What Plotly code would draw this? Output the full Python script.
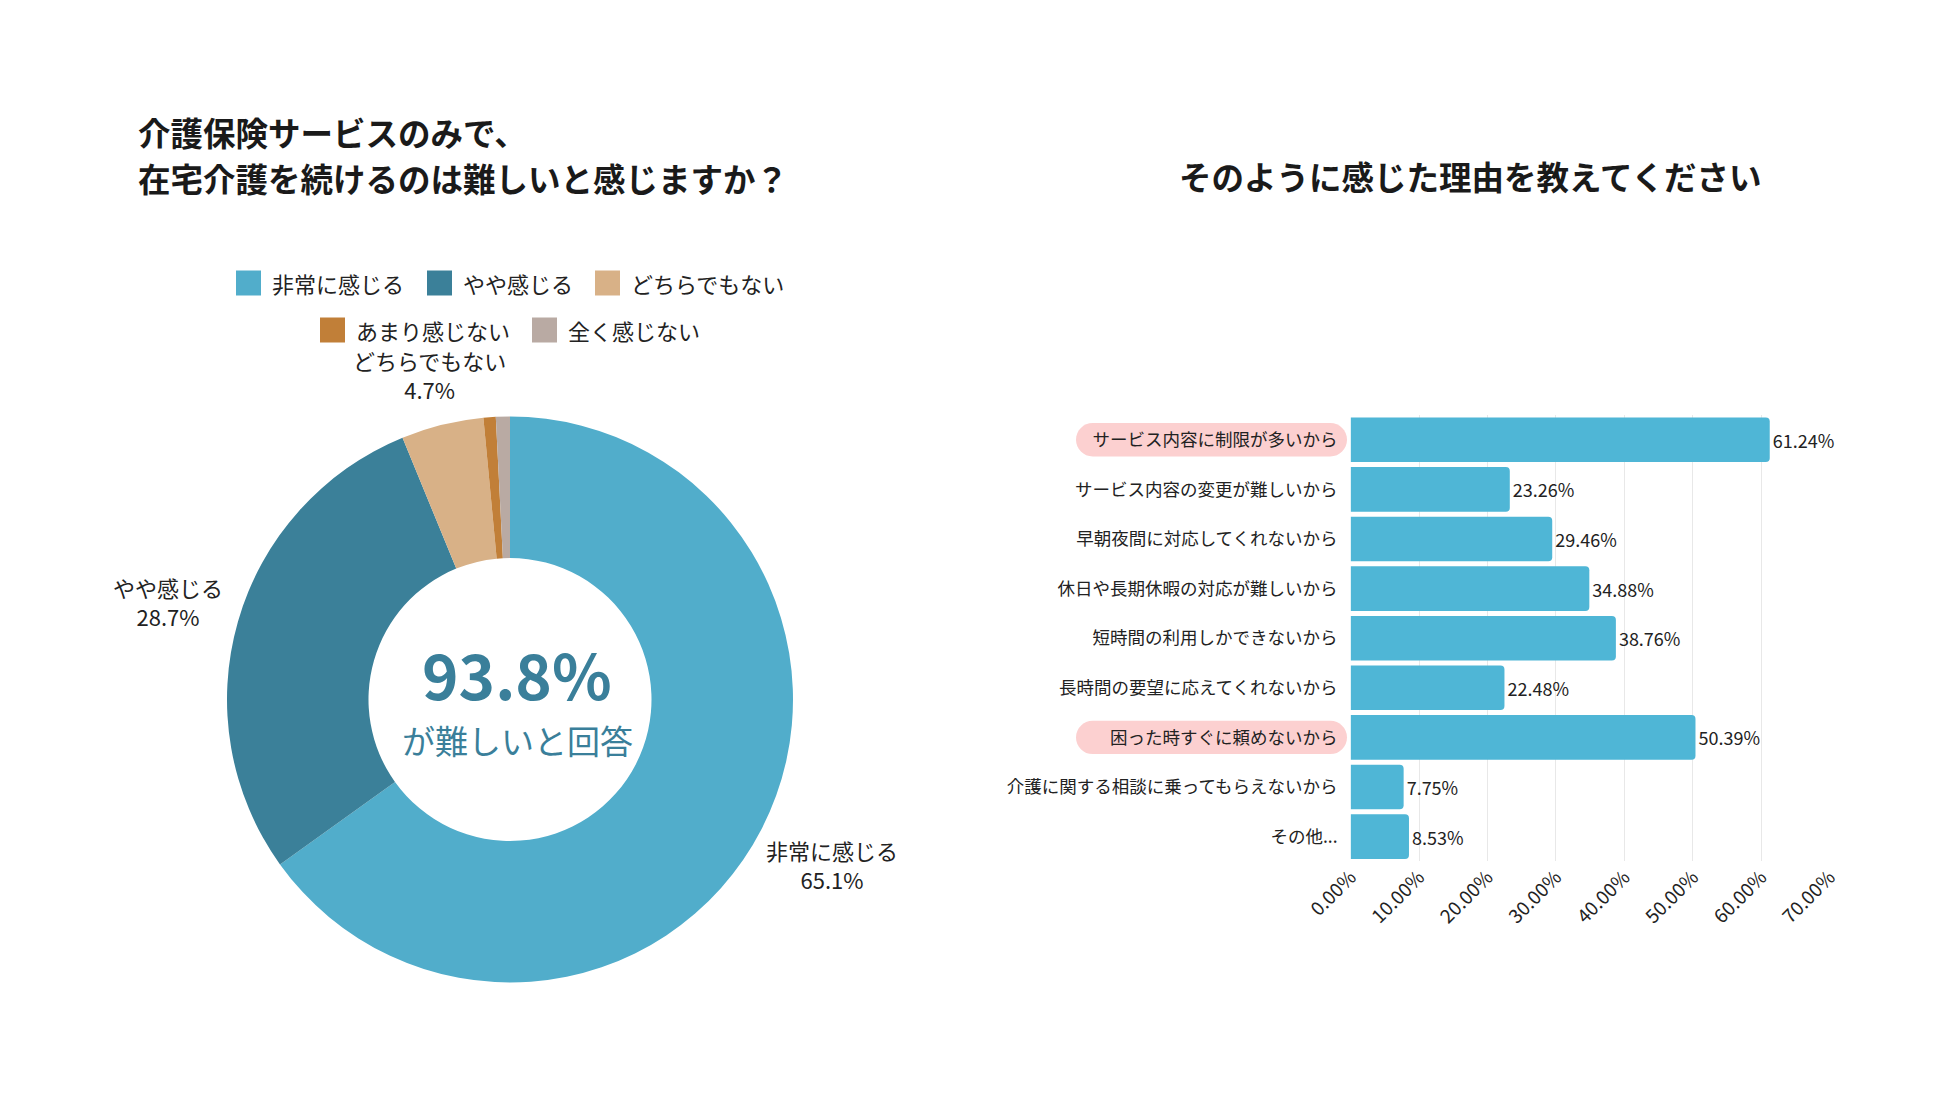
import math
import plotly.graph_objects as go

# ---------------- data ----------------
pie_labels = ["非常に感じる", "やや感じる", "どちらでもない", "あまり感じない", "全く感じない"]
pie_values = [65.1, 28.7, 4.7, 0.7, 0.8]
pie_show_label = [True, True, True, False, False]
pie_colors = ["#51adcb", "#3b8099", "#d8b187", "#c17f38", "#b9aaa3"]

center_value = "93.8%"
center_caption = "が難しいと回答"

left_title_lines = ["介護保険サービスのみで、", "在宅介護を続けるのは難しいと感じますか？"]
right_title = "そのように感じた理由を教えてください"

bar_categories = [
    "サービス内容に制限が多いから",
    "サービス内容の変更が難しいから",
    "早朝夜間に対応してくれないから",
    "休日や長期休暇の対応が難しいから",
    "短時間の利用しかできないから",
    "長時間の要望に応えてくれないから",
    "困った時すぐに頼めないから",
    "介護に関する相談に乗ってもらえないから",
    "その他...",
]
bar_values = [61.24, 23.26, 29.46, 34.88, 38.76, 22.48, 50.39, 7.75, 8.53]
highlighted_categories = ["サービス内容に制限が多いから", "困った時すぐに頼めないから"]

x_tickvals = [0, 10, 20, 30, 40, 50, 60, 70]
x_ticktext = ["0.00%", "10.00%", "20.00%", "30.00%", "40.00%", "50.00%", "60.00%", "70.00%"]

# ---------------- layout constants ----------------
W, H = 1950, 1097
FONT = "Noto Sans CJK JP"
TEXT = "#222222"
BAR_COLOR = "#4fb6d6"
PILL_COLOR = "#fcd0d0"
PIE_CX, PIE_CY, PIE_R = 510, 699.5, 283
LABEL_SIZE = 22
BAR_X0, BAR_X1 = 1350.6, 1829.7
BAR_Y0, BAR_Y1 = 415, 861.4


def px_x(p):
    return p / W


def px_y(p):
    return 1 - p / H


fig = go.Figure()

fig.add_trace(go.Pie(
    labels=pie_labels,
    values=pie_values,
    textinfo="none",
    marker=dict(colors=pie_colors, line=dict(width=0)),
    hole=0.5,
    sort=False,
    direction="clockwise",
    rotation=0,
    showlegend=False,
    automargin=False,
    domain=dict(x=[px_x(PIE_CX - PIE_R), px_x(PIE_CX + PIE_R)],
                y=[px_y(PIE_CY + PIE_R), px_y(PIE_CY - PIE_R)]),
    hoverinfo="label+percent",
))

fig.add_trace(go.Bar(
    y=bar_categories,
    x=bar_values,
    orientation="h",
    marker=dict(color=BAR_COLOR, cornerradius=4, line=dict(width=0)),
    texttemplate="%{x:.2f}%",
    textposition="outside",
    textfont=dict(family=FONT, size=18, color=TEXT),
    cliponaxis=False,
    showlegend=False,
    xaxis="x", yaxis="y",
))

annotations = []
shapes = []

# titles
for i, line in enumerate(left_title_lines):
    annotations.append(dict(
        text=f"<b>{line}</b>", xref="paper", yref="paper",
        x=px_x(136), y=px_y(131 + 47 * i), xanchor="left", yanchor="middle",
        showarrow=False, font=dict(family=FONT, size=32.5, color="#1a1a1a"),
    ))
annotations.append(dict(
    text=f"<b>{right_title}</b>", xref="paper", yref="paper",
    x=px_x(1470), y=px_y(175), xanchor="center", yanchor="middle",
    showarrow=False, font=dict(family=FONT, size=32.5, color="#1a1a1a"),
))

# donut centre text
annotations.append(dict(
    text=f"<b>{center_value}</b>", xref="paper", yref="paper",
    x=px_x(PIE_CX + 7), y=px_y(673), xanchor="center", yanchor="middle",
    showarrow=False, font=dict(family=FONT, size=62, color="#3a7f9a"),
))
annotations.append(dict(
    text=center_caption, xref="paper", yref="paper",
    x=px_x(PIE_CX + 7), y=px_y(740), xanchor="center", yanchor="middle",
    showarrow=False, font=dict(family=FONT, size=33, color="#3a7f9a"),
))

# slice labels outside the donut, placed at each slice's mid angle
total = sum(pie_values)
cum = 0.0
R0 = 302
for lab, val, show in zip(pie_labels, pie_values, pie_show_label):
    theta = 2 * math.pi * (cum + val / 2) / total
    cum += val
    if not show:
        continue
    hw = 0.5 * LABEL_SIZE * len(lab)
    hh = 28
    s, c = math.sin(theta), math.cos(theta)
    d = R0 + math.hypot(hw * s, hh * c)
    lx = PIE_CX + d * s
    ly = PIE_CY - d * c
    annotations.append(dict(
        text=f"{lab}<br>{val:.1f}%", xref="paper", yref="paper",
        x=px_x(lx), y=px_y(ly), xanchor="center", yanchor="middle", align="center",
        showarrow=False, font=dict(family=FONT, size=LABEL_SIZE, color=TEXT),
    ))

# manual legend (two centred rows)
legend_rows = [[0, 1, 2], [3, 4]]
legend_row_y = [283, 330]
legend_item_x = {0: 236, 1: 427, 2: 595, 3: 320, 4: 532}
SQ = 25
for row, yc in zip(legend_rows, legend_row_y):
    for idx in row:
        x0 = legend_item_x[idx]
        shapes.append(dict(
            type="rect", xref="paper", yref="paper",
            x0=px_x(x0), x1=px_x(x0 + SQ), y0=px_y(yc - SQ / 2), y1=px_y(yc + SQ / 2),
            fillcolor=pie_colors[idx], line=dict(width=0),
        ))
        annotations.append(dict(
            text=pie_labels[idx], xref="paper", yref="paper",
            x=px_x(x0 + SQ + 9), y=px_y(yc), xanchor="left", yanchor="middle",
            showarrow=False, font=dict(family=FONT, size=22, color=TEXT),
        ))

# pink pills behind highlighted category labels
step_px = (BAR_Y1 - BAR_Y0) / len(bar_categories)
pill_half_h = 16.7
pill_x0, pill_x1 = px_x(1076), px_x(1347)
ry = pill_half_h / step_px
rx = pill_half_h / W
k = 0.5523
for cat in highlighted_categories:
    yc = bar_categories.index(cat)
    xl, xr = pill_x0 + rx, pill_x1 - rx
    path = (
        f"M {xl},{yc - ry} L {xr},{yc - ry} "
        f"C {xr + k * rx},{yc - ry} {xr + rx},{yc - k * ry} {xr + rx},{yc} "
        f"C {xr + rx},{yc + k * ry} {xr + k * rx},{yc + ry} {xr},{yc + ry} "
        f"L {xl},{yc + ry} "
        f"C {xl - k * rx},{yc + ry} {xl - rx},{yc + k * ry} {xl - rx},{yc} "
        f"C {xl - rx},{yc - k * ry} {xl - k * rx},{yc - ry} {xl},{yc - ry} Z"
    )
    shapes.append(dict(
        type="path", xref="paper", yref="y", path=path,
        fillcolor=PILL_COLOR, line=dict(width=0), layer="below",
    ))

fig.update_layout(
    width=W, height=H,
    margin=dict(l=0, r=0, t=0, b=0, autoexpand=False),
    paper_bgcolor="white", plot_bgcolor="white",
    font=dict(family=FONT, color=TEXT),
    bargap=0.1,
    xaxis=dict(
        domain=[px_x(BAR_X0), px_x(BAR_X1)], anchor="y", automargin=False,
        range=[0, 70], tickvals=x_tickvals, ticktext=x_ticktext,
        tickangle=-45, tickfont=dict(family=FONT, size=19, color=TEXT),
        showgrid=True, gridcolor="#e8e8e8", gridwidth=1,
        zeroline=False, showline=False, ticks="", fixedrange=True,
    ),
    yaxis=dict(
        domain=[px_y(BAR_Y1), px_y(BAR_Y0)], anchor="x", automargin=False,
        type="category", autorange="reversed",
        tickfont=dict(family=FONT, size=17.5, color=TEXT),
        showgrid=False, zeroline=False, showline=False, ticks="",
        ticklabelstandoff=12, fixedrange=True,
    ),
    annotations=annotations,
    shapes=shapes,
)

fig.write_html(
    "out.html",
    config={"displayModeBar": False},
    post_script="document.body.style.margin='0';document.body.style.overflow='hidden';",
)
